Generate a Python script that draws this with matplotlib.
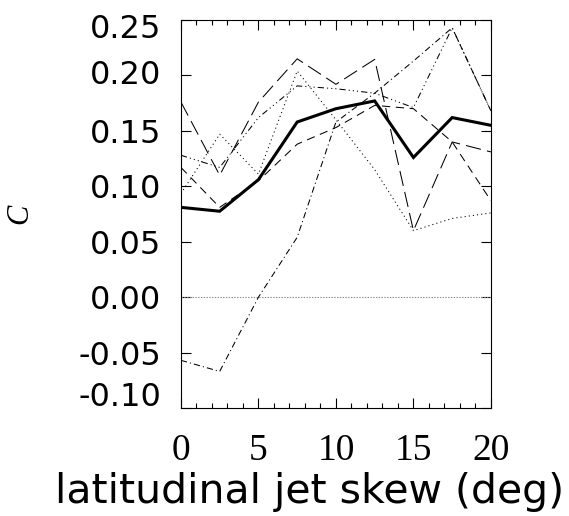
import numpy as np
import matplotlib
matplotlib.use("Agg")
import matplotlib.pyplot as plt
from matplotlib.ticker import MultipleLocator
from matplotlib.transforms import ScaledTranslation

plt.rcParams['lines.scale_dashes'] = False

# jet skew (deg) and correlation C for each run
skew = [0, 2.5, 5, 7.5, 10, 12.5, 15, 17.5, 20]
c_mean = [0.081, 0.0775, 0.106, 0.158, 0.170, 0.177, 0.126, 0.162, 0.155]
c_long = [0.176, 0.110, 0.176, 0.215, 0.192, 0.2145, 0.060, 0.140, 0.131]
c_dash = [0.117, 0.081, 0.105, 0.138, 0.153, 0.173, 0.170, 0.140, 0.087]
c_dot = [0.0935, 0.147, 0.111, 0.204, 0.160, 0.115, 0.060, 0.071, 0.076]
c_dashdot = [-0.057, -0.067, 0.0, 0.054, 0.158, 0.184, 0.213, 0.243, 0.168]
c_dash3dot = [0.128, 0.117, 0.162, 0.1906, 0.188, 0.184, 0.171, 0.243, 0.168]

yticks = [-0.10, -0.05, 0.00, 0.05, 0.10, 0.15, 0.20, 0.25]
ytick_labels = ['-0.10', '-0.05', '0.00', '0.05', '0.10', '0.15', '0.20', '0.25']
xticks = [0, 5, 10, 15, 20]

fig = plt.figure(figsize=(5.69, 5.16), dpi=100)
ax = fig.add_axes([0.318, 0.2093, 0.5448, 0.7519])

thin = 0.75
ax.axhline(0, color='0.55', lw=0.8, ls=(0, (1, 1)))
ax.plot(skew, c_long, color='k', lw=thin, ls=(0, (11, 4.5)))
ax.plot(skew, c_dash, color='k', lw=thin, ls=(0, (6, 4)))
ax.plot(skew, c_dot, color='k', lw=thin, ls=(0, (0.8, 2.2)))
ax.plot(skew, c_dashdot, color='k', lw=thin, ls=(0, (4.5, 2.2, 0.8, 2.2)))
ax.plot(skew, c_dash3dot, color='k', lw=thin,
        ls=(0, (4.5, 2.2, 0.8, 2.2, 0.8, 2.2, 0.8, 2.2)))
ax.plot(skew, c_mean, color='k', lw=2.2, solid_joinstyle='miter')

ax.set_xlim(0, 20)
ax.set_ylim(-0.10, 0.25)
ax.set_xticks(xticks)
ax.set_xticklabels([str(t) for t in xticks], family='Liberation Serif', fontsize=27)
ax.xaxis.set_minor_locator(MultipleLocator(1))
ax.set_yticks(yticks)
ylabs = ax.set_yticklabels(ytick_labels, family='DejaVu Sans', fontsize=23)

ax.tick_params(axis='both', which='major', direction='in', length=7, width=0.8,
               top=True, right=True)
ax.tick_params(axis='x', which='minor', direction='in', length=3.5, width=0.8,
               top=True)
ax.tick_params(axis='x', which='major', pad=18)
ax.tick_params(axis='y', which='major', pad=14)
for s in ax.spines.values():
    s.set_linewidth(0.8)

# end labels pulled inside the axis range
ylabs[0].set_transform(ylabs[0].get_transform() + ScaledTranslation(0, 14 / 100, fig.dpi_scale_trans))
ylabs[-1].set_transform(ylabs[-1].get_transform() + ScaledTranslation(0, -6 / 100, fig.dpi_scale_trans))
ylabs[-2].set_transform(ylabs[-2].get_transform() + ScaledTranslation(0, 3 / 100, fig.dpi_scale_trans))

ax.set_xlabel('latitudinal jet skew (deg)', fontsize=29.5, family='DejaVu Sans')
ax.xaxis.set_label_coords(0.416, -0.165)
ax.set_ylabel('C', fontsize=22, family='Liberation Serif', style='italic',
              va='center')
ax.yaxis.set_label_coords(-0.52, 0.5)

fig.savefig('out.png', dpi=100)
